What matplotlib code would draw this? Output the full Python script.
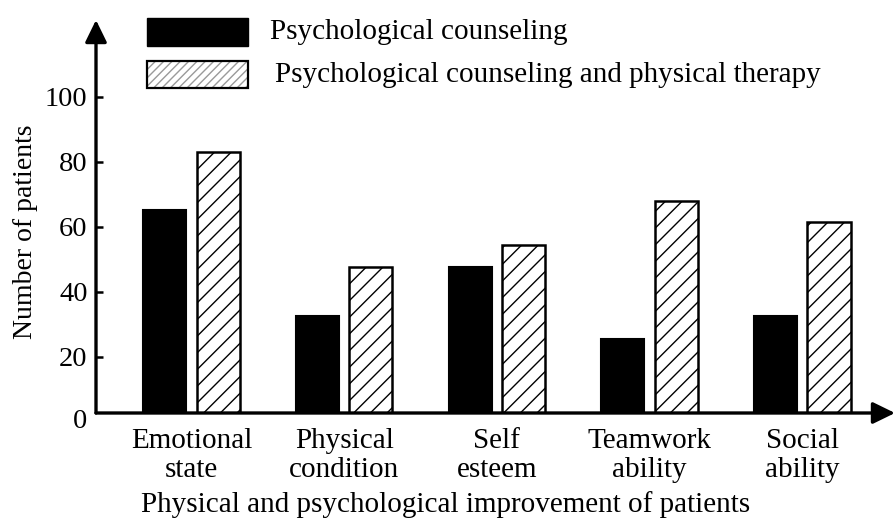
import matplotlib
matplotlib.use("Agg")
import matplotlib.pyplot as plt
from matplotlib.patches import Rectangle
import matplotlib.transforms as mtransforms
import numpy as np

plt.rcParams['font.family'] = ['Liberation Serif', 'DejaVu Serif']
plt.rcParams['hatch.linewidth'] = 1.0

# donnees
categories = ['Emotional\nstate', 'Physical\ncondition', 'Self\nesteem',
              'Teamwork\nability', 'Social\nability']
counseling = [65, 32.5, 47.5, 25.5, 32.5]
counseling_physical = [83, 47.5, 54.5, 68, 61.5]
yticks = [20, 40, 60, 80, 100]
label_1 = 'Psychological counseling'
label_2 = 'Psychological counseling and physical therapy'

W, H = 896, 520
fig = plt.figure(figsize=(W / 100, H / 100), dpi=100)
ax = fig.add_axes([96 / W, (H - 413) / H, (895 - 96) / W, (413 - 20) / H])

x = np.arange(len(categories))
largeur = 0.282
decal = 0.175
ax.bar(x - decal, counseling, largeur, color='black', edgecolor='black', lw=1.5)
ax.bar(x + decal, counseling_physical, largeur, color='white', edgecolor='black',
       hatch='//', lw=1.8)

ax.set_xlim(-0.625, 4.607)
ax.set_ylim(2.68, 123.6)
for s in ax.spines.values():
    s.set_visible(False)

# axes avec fleches
fleche = dict(arrowstyle='-|>,head_length=0.45,head_width=0.22', lw=2.4, color='black',
              shrinkA=0, shrinkB=0, mutation_scale=30)
ax.annotate('', xy=(0, 1), xytext=(0, 0), xycoords='axes fraction',
            textcoords='axes fraction', arrowprops=fleche, annotation_clip=False)
ax.annotate('', xy=(1, 0), xytext=(0, 0), xycoords='axes fraction',
            textcoords='axes fraction', arrowprops=fleche, annotation_clip=False)

ax.set_yticks(yticks)
ax.set_yticklabels([str(v) for v in yticks])
ax.tick_params(axis='y', direction='in', length=5, width=1.8, labelsize=20.5, pad=6)
ax.set_xticks(x)
ax.set_xticklabels(categories, linespacing=1.15)
ax.tick_params(axis='x', length=0, labelsize=21, pad=11)

trans = mtransforms.blended_transform_factory(ax.transAxes, ax.transData)
ax.text(-0.011, 0, '0', transform=trans, ha='right', va='center', fontsize=20.5, clip_on=False)

fig.text(0.5 * (140 + 752) / W, 1 - 505 / H,
         'Physical and psychological improvement of patients',
         ha='center', va='center', fontsize=21)
fig.text(25 / W, 1 - 232 / H, 'Number of patients', rotation=90,
         ha='center', va='center', fontsize=20)

# legende dessinee a la main
fig.add_artist(Rectangle((147 / W, 1 - 46 / H), 101 / W, 28 / H, transform=fig.transFigure,
                         facecolor='black', edgecolor='black', lw=1))
fig.add_artist(Rectangle((147 / W, 1 - 88 / H), 101 / W, 27 / H, transform=fig.transFigure,
                         facecolor='white', edgecolor='#9a9a9a', hatch='////', lw=0))
fig.add_artist(Rectangle((147 / W, 1 - 88 / H), 101 / W, 27 / H, transform=fig.transFigure,
                         fill=False, edgecolor='black', lw=1.6))
fig.text(270 / W, 1 - 32 / H, label_1, ha='left', va='center', fontsize=21)
fig.text(275 / W, 1 - 75 / H, label_2, ha='left', va='center', fontsize=21)

fig.savefig('out.png', dpi=100)
